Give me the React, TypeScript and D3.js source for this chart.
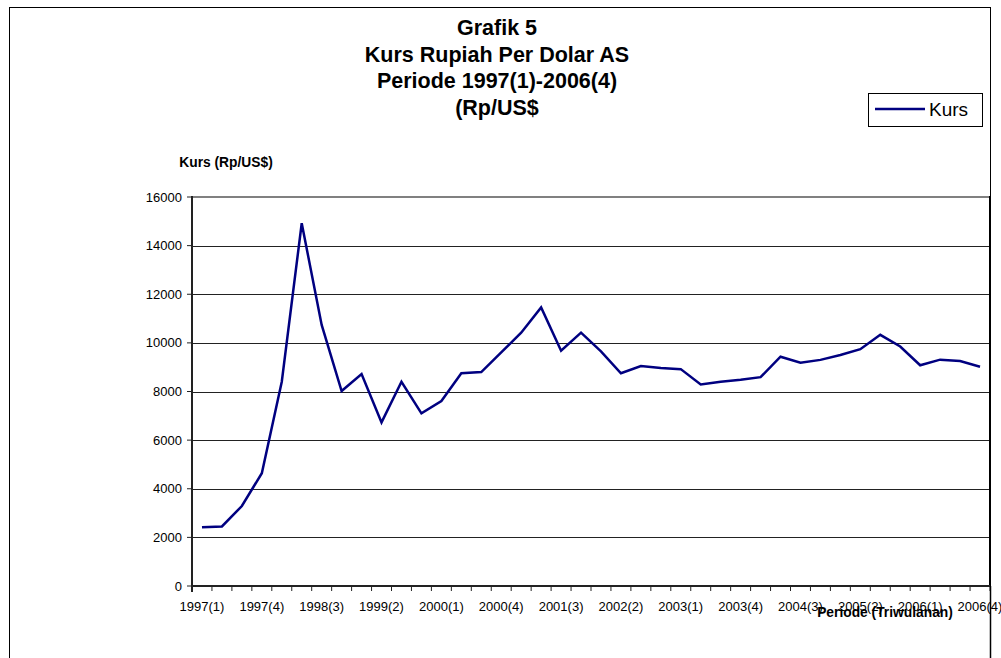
import React from "react";
import * as d3 from "d3";

const periods: string[] = [
  "1997(1)", "1997(2)", "1997(3)", "1997(4)",
  "1998(1)", "1998(2)", "1998(3)", "1998(4)",
  "1999(1)", "1999(2)", "1999(3)", "1999(4)",
  "2000(1)", "2000(2)", "2000(3)", "2000(4)",
  "2001(1)", "2001(2)", "2001(3)", "2001(4)",
  "2002(1)", "2002(2)", "2002(3)", "2002(4)",
  "2003(1)", "2003(2)", "2003(3)", "2003(4)",
  "2004(1)", "2004(2)", "2004(3)", "2004(4)",
  "2005(1)", "2005(2)", "2005(3)", "2005(4)",
  "2006(1)", "2006(2)", "2006(3)", "2006(4)",
];

const kurs: number[] = [
  2420, 2450, 3290, 4640,
  8400, 14920, 10740, 8020,
  8720, 6730, 8400, 7100,
  7610, 8750, 8800, 9610,
  10420, 11460, 9680, 10420,
  9650, 8750, 9050, 8970,
  8920, 8290, 8400, 8480,
  8590, 9430, 9180, 9300,
  9500, 9740, 10330, 9850,
  9080, 9310, 9250, 9020,
];

const yTicks: number[] = [0, 2000, 4000, 6000, 8000, 10000, 12000, 14000, 16000];
const labelEvery = 3;

const titleLines: string[] = [
  "Grafik 5",
  "Kurs Rupiah Per Dolar AS",
  "Periode 1997(1)-2006(4)",
  "(Rp/US$",
];

export default function App() {
  const W = 1001, H = 658;
  const left = 192, right = 990, top = 197, bottom = 586;
  const x = d3.scaleBand<string>().domain(periods).range([left, right]);
  const y = d3.scaleLinear().domain([0, 16000]).range([bottom, top]);
  const cx = (p: string) => (x(p) as number) + x.bandwidth() / 2;
  const line = d3
    .line<number>()
    .x((_, i) => cx(periods[i]))
    .y((d) => y(d));
  const font = "'Liberation Sans', Arial, sans-serif";
  const boundaries = d3.range(periods.length + 1).map((i) => left + i * x.bandwidth());

  return (
    <div style={{ position: "absolute", left: 0, top: 0 }}>
      <svg width={W} height={H} style={{ display: "block", background: "#fff" }} fontFamily={font}>
        <rect x={0} y={0} width={W} height={H} fill="#fff" />
        {/* outer frame */}
        <rect x={9.5} y={7.5} width={981} height={700} fill="none" stroke="#000" strokeWidth={1} />
        {/* title */}
        {titleLines.map((t, i) => (
          <text key={t} x={497} y={35 + i * 26.7} textAnchor="middle" fontSize={21.5} fontWeight="bold" fill="#000">
            {t}
          </text>
        ))}
        {/* legend */}
        <rect x={868.5} y={93.5} width={114} height={33} fill="#fff" stroke="#000" strokeWidth={1} />
        <line x1={875} x2={925} y1={109} y2={109} stroke="#000080" strokeWidth={2.5} />
        <text x={929} y={116} fontSize={19} fill="#000">Kurs</text>
        {/* y axis title */}
        <text x={226} y={167} textAnchor="middle" fontSize={13.8} fontWeight="bold" fill="#000">
          Kurs (Rp/US$)
        </text>
        {/* gridlines */}
        {yTicks.filter((v) => v > 0 && v < 16000).map((v) => (
          <line key={v} x1={left} x2={right} y1={Math.round(y(v)) + 0.5} y2={Math.round(y(v)) + 0.5} stroke="#222" strokeWidth={1} />
        ))}
        <line x1={left} x2={right} y1={y(16000)} y2={y(16000)} stroke="#808080" strokeWidth={2} />
        {/* right plot border */}
        <line x1={right} x2={right} y1={top - 1} y2={bottom} stroke="#000" strokeWidth={2} />
        {/* y axis */}
        <line x1={left} x2={left} y1={top - 1} y2={bottom + 6} stroke="#222" strokeWidth={2} />
        {yTicks.map((v) => (
          <g key={v}>
            <line x1={left - 5} x2={left} y1={y(v)} y2={y(v)} stroke="#222" strokeWidth={1} />
            <text x={182} y={y(v) + 4.5} textAnchor="end" fontSize={13} fill="#000">
              {v}
            </text>
          </g>
        ))}
        {/* x axis */}
        <line x1={left} x2={right} y1={bottom} y2={bottom} stroke="#222" strokeWidth={2} />
        {boundaries.map((b, i) => (
          <line key={i} x1={b} x2={b} y1={bottom} y2={bottom + 5} stroke="#222" strokeWidth={1} />
        ))}
        {periods.map((p, i) =>
          i % labelEvery === 0 ? (
            <text key={p} x={cx(p)} y={611} textAnchor="middle" fontSize={13} fill="#000">
              {p}
            </text>
          ) : null
        )}
        <text x={885} y={617} textAnchor="middle" fontSize={13.8} fontWeight="bold" fill="#000">
          Periode (Triwulanan)
        </text>
        {/* data line */}
        <path d={line(kurs) as string} fill="none" stroke="#000080" strokeWidth={2.5} strokeLinejoin="miter" />
        {/* right frame line over labels */}
        <line x1={990.5} x2={990.5} y1={bottom} y2={H} stroke="#000" strokeWidth={1.5} />
      </svg>
    </div>
  );
}
